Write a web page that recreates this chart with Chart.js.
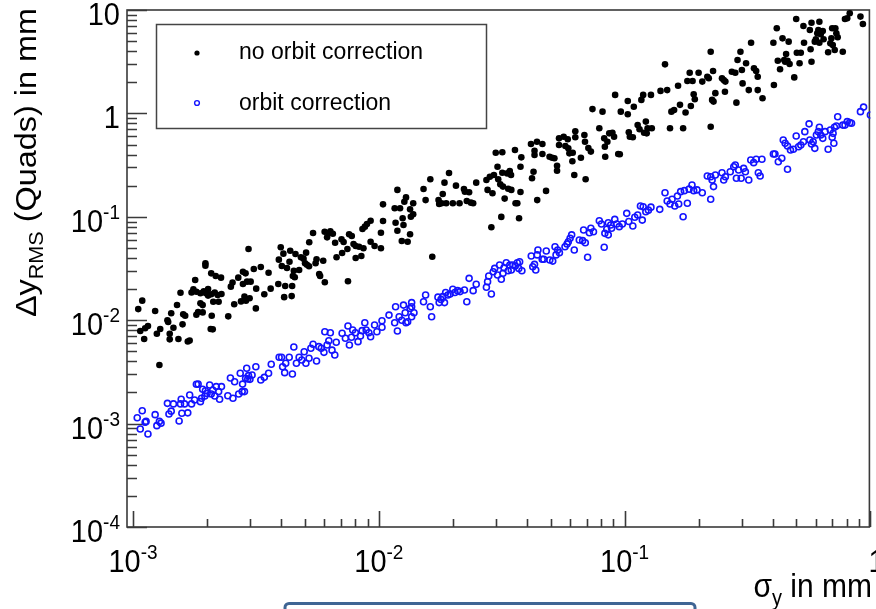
<!DOCTYPE html>
<html>
<head>
<meta charset="utf-8">
<script src="https://cdn.jsdelivr.net/npm/chart.js@4"></script>
<style>
  html, body { margin: 0; padding: 0; background: #fff; }
  canvas { display: block; }
</style>
</head>
<body>
<canvas id="scan" width="876" height="609"></canvas>
<script>
// sigma_y (mm) and Delta y_RMS (mm)
const noCorrSigma = [
  1.05e-3,1.09e-3,1.07e-3,1.11e-3,1.12e-3,1.15e-3,1.23e-3,1.25e-3,1.29e-3,1.38e-3,
  1.39e-3,1.41e-3,1.41e-3,1.43e-3,1.46e-3,1.51e-3,1.53e-3,1.56e-3,1.59e-3,1.60e-3,
  1.63e-3,1.67e-3,1.70e-3,1.73e-3,1.76e-3,1.79e-3,1.81e-3,1.81e-3,1.84e-3,1.88e-3,
  1.88e-3,1.92e-3,1.92e-3,1.94e-3,1.97e-3,1.97e-3,1.98e-3,2.02e-3,2.02e-3,2.08e-3,
  2.08e-3,2.09e-3,2.07e-3,2.11e-3,2.12e-3,2.15e-3,2.17e-3,2.21e-3,2.23e-3,2.28e-3,
  2.29e-3,2.44e-3,2.50e-3,2.54e-3,2.58e-3,2.68e-3,2.75e-3,2.80e-3,2.80e-3,2.84e-3,
  2.87e-3,2.88e-3,2.91e-3,2.95e-3,2.98e-3,3.01e-3,3.10e-3,3.16e-3,3.17e-3,3.31e-3,
  3.42e-3,3.56e-3,3.63e-3,3.90e-3,3.92e-3,3.99e-3,4.03e-3,4.09e-3,4.12e-3,4.16e-3,
  4.23e-3,4.33e-3,4.36e-3,4.42e-3,4.44e-3,4.47e-3,4.51e-3,4.55e-3,4.58e-3,4.74e-3,
  4.82e-3,4.94e-3,5.01e-3,5.06e-3,5.10e-3,5.20e-3,5.21e-3,5.40e-3,5.53e-3,5.58e-3,
  5.72e-3,5.77e-3,5.94e-3,6.03e-3,6.02e-3,6.16e-3,6.26e-3,6.35e-3,6.50e-3,6.64e-3,
  6.73e-3,7.05e-3,7.09e-3,7.19e-3,7.45e-3,7.49e-3,7.57e-3,7.76e-3,7.89e-3,8.05e-3,
  8.05e-3,8.31e-3,8.49e-3,8.66e-3,8.58e-3,8.78e-3,8.95e-3,9.26e-3,9.26e-3,9.61e-3,
  1.28e-3,
  1.02e-2,1.02e-2,1.04e-2,1.04e-2,1.16e-2,1.19e-2,1.17e-2,1.19e-2,1.22e-2,1.24e-2,
  1.25e-2,1.26e-2,1.27e-2,1.29e-2,1.31e-2,1.34e-2,1.34e-2,1.35e-2,1.38e-2,1.38e-2,
  1.52e-2,1.55e-2,1.62e-2,1.65e-2,1.75e-2,1.76e-2,1.80e-2,1.82e-2,1.85e-2,1.88e-2,
  1.93e-2,2.00e-2,2.06e-2,2.13e-2,2.22e-2,2.24e-2,2.28e-2,2.33e-2,2.37e-2,2.42e-2,
  2.49e-2,2.74e-2,2.77e-2,2.83e-2,2.87e-2,2.90e-2,2.94e-2,2.99e-2,3.04e-2,3.06e-2,
  3.12e-2,3.15e-2,3.18e-2,3.18e-2,3.20e-2,3.25e-2,3.33e-2,3.36e-2,3.41e-2,3.45e-2,
  3.46e-2,3.58e-2,3.60e-2,3.66e-2,3.72e-2,3.77e-2,3.77e-2,3.80e-2,4.16e-2,4.20e-2,
  4.26e-2,4.30e-2,4.30e-2,4.40e-2,4.41e-2,4.63e-2,4.63e-2,4.79e-2,4.95e-2,5.07e-2,
  5.18e-2,5.31e-2,5.31e-2,5.41e-2,5.41e-2,5.65e-2,5.74e-2,5.87e-2,5.90e-2,5.96e-2,
  6.13e-2,6.15e-2,6.24e-2,6.30e-2,6.30e-2,6.64e-2,6.86e-2,6.90e-2,6.94e-2,7.12e-2,
  7.29e-2,7.40e-2,7.89e-2,8.13e-2,8.26e-2,8.31e-2,8.34e-2,
  8.51e-2,8.66e-2,8.92e-2,9.06e-2,9.15e-2,9.42e-2,9.56e-2,9.65e-2,0.103,0.103,
  0.104,0.105,0.108,0.109,0.113,0.115,0.117,0.119,0.120,0.122,
  0.123,0.124,0.128,0.129,0.140,0.146,0.149,0.153,0.155,0.159,
  0.165,0.168,0.173,0.177,0.180,0.184,0.186,0.189,0.191,0.193,
  0.200,0.207,0.217,0.220,0.224,0.224,0.229,0.227,0.230,0.234,
  0.249,0.253,0.256,0.257,0.273,0.282,0.285,0.288,0.296,0.300,
  0.302,0.312,0.320,0.327,0.336,0.343,0.348,0.348,0.364,0.403,
  0.405,0.416,0.420,0.429,0.439,0.446,0.450,0.454,0.460,0.465,
  0.469,0.490,0.499,0.502,0.515,0.521,0.534,0.537,0.567,0.571,
  0.576,0.576,0.594,0.600,0.608,0.614,0.620,0.620,0.628,0.640,
  0.645,0.673,0.687,0.694,0.699,0.703,0.716,0.720,0.727,0.736,
  0.772,0.788,0.805,0.824,0.911,0.932
];
const noCorrDelta = [
  1.28e-2,1.545e-2,7.86e-3,6.58e-3,8.35e-3,8.79e-3,1.227e-2,7.40e-3,8.22e-3,1.00e-2,
  9.61e-3,7.40e-3,6.53e-3,1.166e-2,8.46e-3,1.403e-2,6.58e-3,1.845e-2,9.12e-3,1.14e-2,
  1.105e-2,6.22e-3,6.37e-3,1.85e-2,1.99e-2,2.45e-2,1.885e-2,1.13e-2,1.20e-2,1.457e-2,
  1.82e-2,1.19e-2,1.40e-2,1.90e-2,3.55e-2,3.37e-2,1.82e-2,2.00e-2,1.73e-2,2.84e-2,
  1.78e-2,1.105e-2,8.22e-3,8.16e-3,1.51e-2,1.85e-2,2.68e-2,1.75e-2,1.51e-2,2.58e-2,
  1.79e-2,1.09e-2,2.11e-2,2.31e-2,1.425e-2,2.58e-2,1.52e-2,2.94e-2,2.24e-2,1.69e-2,
  2.84e-2,1.545e-2,2.36e-2,4.88e-2,1.63e-2,2.36e-2,3.13e-2,1.30e-2,2.02e-2,3.27e-2,
  1.78e-2,2.88e-2,2.02e-2,2.24e-2,3.85e-2,5.07e-2,3.34e-2,4.40e-2,1.67e-2,2.14e-2,
  3.20e-2,3.68e-2,4.70e-2,1.71e-2,2.14e-2,2.68e-2,3.01e-2,2.60e-2,4.37e-2,3.06e-2,
  4.06e-2,3.94e-2,3.55e-2,4.50e-2,3.44e-2,3.32e-2,5.67e-2,6.97e-2,3.55e-2,3.88e-2,
  2.80e-2,2.68e-2,3.76e-2,2.33e-2,7.18e-2,6.33e-2,6.92e-2,7.24e-2,6.86e-2,5.62e-2,
  4.06e-2,6.06e-2,4.47e-2,5.70e-2,4.88e-2,2.38e-2,6.78e-2,6.52e-2,5.46e-2,4.00e-2,
  5.22e-2,5.14e-2,4.18e-2,4.96e-2,7.62e-2,8.03e-2,8.52e-2,9.17e-2,5.74e-2,5.22e-2,
  3.69e-3,
  4.96e-2,7.02e-2,9.11e-2,0.132,0.121,0.182,8.77e-2,7.34e-2,0.121,5.84e-2,
  9.67e-2,8.33e-2,0.140,0.154,5.74e-2,0.118,6.78e-2,0.100,0.106,0.135,
  0.186,0.145,0.231,4.11e-2,0.145,0.133,0.135,0.166,0.214,0.135,
  0.265,0.135,0.200,0.135,0.186,0.175,0.142,0.173,0.137,0.135,
  0.214,0.227,0.182,0.244,7.92e-2,0.169,0.254,0.417,0.305,0.231,
  0.206,0.0998,0.421,0.267,0.196,0.150,0.263,0.187,0.277,0.254,
  0.182,0.443,0.135,0.135,9.67e-2,0.174,0.305,0.376,0.506,0.236,
  0.273,0.436,0.396,0.532,0.145,0.506,0.405,0.178,0.381,0.373,
  0.368,0.312,0.279,0.574,0.495,0.595,0.484,0.562,0.459,0.411,
  0.344,0.417,0.254,0.671,0.588,0.373,0.619,0.532,0.231,0.463,
  0.427,1.10,0.718,1.04,0.574,0.476,0.381,
  0.532,0.641,0.650,0.595,1.51,0.405,0.402,1.04,1.32,0.980,
  0.657,0.595,0.588,1.16,0.771,0.702,1.35,1.51,0.650,0.833,
  0.641,0.718,1.51,0.718,1.65,2.98,1.68,0.718,1.04,1.08,
  1.85,1.21,0.718,1.02,2.06,2.47,1.18,2.06,1.53,1.37,
  2.47,2.03,2.26,2.19,3.95,0.743,2.57,1.35,1.30,1.57,
  2.19,2.10,1.62,2.03,2.53,2.47,1.27,3.28,3.95,2.63,
  1.95,3.05,1.68,4.83,2.73,2.57,2.26,1.68,1.40,4.83,
  1.88,6.66,3.23,2.67,5.32,3.28,3.16,3.76,3.23,4.94,
  3.00,2.23,8.18,3.86,3.05,3.86,7.00,4.83,6.41,4.17,
  3.16,7.54,4.94,5.21,5.95,6.41,7.70,4.83,5.82,6.27,
  5.21,3.90,4.76,5.32,6.66,4.58,4.11,6.66,5.95,5.45,
  3.95,8.18,8.33,9.29,8.63,7.33
];
const corrSigma = [
  1.04e-3,1.07e-3,1.09e-3,1.12e-3,1.13e-3,1.15e-3,1.23e-3,1.25e-3,1.28e-3,1.30e-3,
  1.38e-3,1.40e-3,1.43e-3,1.46e-3,1.54e-3,1.56e-3,1.57e-3,1.58e-3,1.62e-3,1.67e-3,
  1.70e-3,1.73e-3,1.78e-3,1.81e-3,1.84e-3,1.88e-3,1.90e-3,1.92e-3,1.96e-3,1.97e-3,
  2.00e-3,2.05e-3,2.08e-3,2.11e-3,2.15e-3,2.18e-3,2.23e-3,2.25e-3,2.29e-3,2.43e-3,
  2.49e-3,2.55e-3,2.59e-3,2.69e-3,2.73e-3,2.78e-3,2.79e-3,2.84e-3,2.87e-3,2.90e-3,
  2.93e-3,2.95e-3,2.99e-3,3.05e-3,3.16e-3,3.31e-3,3.42e-3,3.56e-3,3.65e-3,3.93e-3,
  4.02e-3,4.06e-3,4.14e-3,4.18e-3,4.32e-3,4.45e-3,4.51e-3,4.62e-3,4.74e-3,4.86e-3,
  4.97e-3,5.05e-3,5.20e-3,5.29e-3,5.40e-3,5.58e-3,5.70e-3,5.83e-3,5.98e-3,6.03e-3,
  6.16e-3,6.26e-3,6.35e-3,6.45e-3,6.62e-3,6.71e-3,7.09e-3,7.31e-3,7.49e-3,7.59e-3,
  7.74e-3,7.83e-3,8.03e-3,8.23e-3,8.42e-3,8.55e-3,8.77e-3,8.88e-3,9.11e-3,9.26e-3,
  9.61e-3,9.82e-3,1.03e-2,1.03e-2,1.10e-2,1.16e-2,1.17e-2,1.19e-2,1.21e-2,1.24e-2,
  1.26e-2,1.28e-2,1.31e-2,1.34e-2,1.36e-2,1.36e-2,1.39e-2,1.52e-2,1.55e-2,
  1.29e-2,1.36e-2,1.62e-2,1.64e-2,1.74e-2,1.76e-2,1.79e-2,1.82e-2,1.85e-2,1.87e-2,
  1.91e-2,1.95e-2,2.00e-2,2.04e-2,2.09e-2,2.14e-2,2.23e-2,2.28e-2,2.33e-2,2.42e-2,
  2.49e-2,2.74e-2,2.77e-2,2.80e-2,2.87e-2,2.92e-2,2.96e-2,3.04e-2,3.10e-2,3.15e-2,
  3.20e-2,3.23e-2,3.30e-2,3.36e-2,3.41e-2,3.46e-2,3.51e-2,3.59e-2,3.66e-2,3.71e-2,
  3.74e-2,3.82e-2,4.17e-2,4.23e-2,4.30e-2,4.35e-2,4.41e-2,4.44e-2,4.62e-2,4.69e-2,
  4.80e-2,4.96e-2,5.10e-2,5.21e-2,5.26e-2,5.34e-2,5.43e-2,5.72e-2,5.83e-2,5.90e-2,
  6.00e-2,6.09e-2,6.24e-2,6.54e-2,6.75e-2,6.81e-2,6.92e-2,7.07e-2,7.19e-2,7.29e-2,
  7.47e-2,7.89e-2,8.05e-2,8.26e-2,8.31e-2,8.46e-2,8.58e-2,8.78e-2,9.12e-2,9.29e-2,
  8.58e-2,8.85e-2,9.51e-2,9.79e-2,
  0.102,0.104,0.108,0.110,0.113,0.116,0.118,0.119,0.122,0.125,
  0.128,0.139,0.146,0.149,0.153,0.156,0.160,0.164,0.166,0.169,
  0.173,0.175,0.180,0.183,0.188,0.191,0.197,0.207,0.217,0.224,
  0.224,0.227,0.230,0.234,0.249,0.253,0.257,0.269,0.278,0.282,
  0.285,0.291,0.298,0.305,0.310,0.320,0.326,0.335,0.343,0.350,
  0.356,0.362,0.403,0.409,0.422,0.436,0.442,0.450,0.460,0.460,
  0.473,0.486,0.499,0.510,0.521,0.534,0.541,0.563,0.567,0.576,
  0.585,0.594,0.603,0.614,0.620,0.628,0.640,0.654,0.673,0.687,
  0.699,0.705,0.710,0.714,0.727,0.736,0.772,0.788,0.805,0.824,
  0.838,0.911,0.938,1.00
];
const corrDelta = [
  1.14e-3,8.87e-4,1.33e-3,1.03e-3,1.05e-3,7.93e-4,1.22e-3,9.55e-4,1.05e-3,1.01e-3,
  1.57e-3,1.24e-3,1.32e-3,1.55e-3,1.06e-3,1.55e-3,1.72e-3,1.26e-3,1.55e-3,1.27e-3,
  1.89e-3,1.55e-3,1.69e-3,2.40e-3,2.41e-3,1.63e-3,1.76e-3,2.15e-3,1.85e-3,2.08e-3,
  1.96e-3,2.36e-3,1.93e-3,2.11e-3,1.85e-3,2.28e-3,2.04e-3,1.72e-3,2.28e-3,1.86e-3,
  2.76e-3,1.76e-3,2.54e-3,1.93e-3,3.07e-3,2.04e-3,2.41e-3,2.04e-3,2.74e-3,3.43e-3,
  2.70e-3,2.91e-3,2.68e-3,2.95e-3,3.55e-3,2.64e-3,2.80e-3,3.07e-3,3.75e-3,4.38e-3,
  4.38e-3,3.55e-3,3.11e-3,3.83e-3,4.38e-3,3.02e-3,5.51e-3,3.83e-3,4.38e-3,4.12e-3,
  4.96e-3,3.83e-3,4.28e-3,5.35e-3,5.85e-3,4.03e-3,5.55e-3,5.35e-3,4.89e-3,7.74e-3,
  5.76e-3,6.33e-3,7.57e-3,5.13e-3,4.61e-3,6.12e-3,7.47e-3,6.68e-3,8.79e-3,5.76e-3,
  6.83e-3,8.04e-3,7.57e-3,6.20e-3,7.03e-3,7.92e-3,9.45e-3,8.04e-3,7.57e-3,6.92e-3,
  9.00e-3,7.74e-3,9.89e-3,8.54e-3,1.12e-2,9.45e-3,1.35e-2,7.86e-3,1.08e-2,1.00e-2,
  1.40e-2,1.18e-2,9.67e-3,1.30e-2,1.48e-2,1.08e-2,1.18e-2,1.51e-2,1.75e-2,
  9.45e-3,1.35e-2,1.35e-2,1.08e-2,1.67e-2,1.48e-2,1.59e-2,1.69e-2,1.48e-2,1.85e-2,
  1.75e-2,1.79e-2,1.99e-2,1.85e-2,1.93e-2,1.89e-2,1.96e-2,1.51e-2,2.54e-2,1.93e-2,
  2.23e-2,2.08e-2,2.36e-2,2.68e-2,1.79e-2,2.94e-2,3.17e-2,2.74e-2,3.42e-2,2.49e-2,
  2.84e-2,3.22e-2,3.60e-2,3.01e-2,3.42e-2,3.06e-2,3.42e-2,3.34e-2,3.60e-2,3.17e-2,
  3.68e-2,3.01e-2,4.18e-2,3.29e-2,3.47e-2,3.06e-2,4.28e-2,4.77e-2,3.88e-2,3.88e-2,
  4.67e-2,3.82e-2,3.73e-2,5.14e-2,4.28e-2,4.77e-2,4.50e-2,5.14e-2,5.46e-2,5.74e-2,
  6.20e-2,6.69e-2,4.77e-2,5.97e-2,5.88e-2,7.45e-2,5.62e-2,4.06e-2,7.02e-2,7.74e-2,
  7.18e-2,9.17e-2,8.52e-2,5.07e-2,6.92e-2,7.57e-2,8.77e-2,8.33e-2,9.45e-2,8.52e-2,
  6.69e-2,7.74e-2,8.03e-2,8.52e-2,
  0.108,9.00e-2,8.15e-2,9.89e-2,0.104,0.127,9.29e-2,0.125,0.112,0.116,
  0.124,0.118,0.171,0.142,0.133,0.148,0.127,0.159,0.133,0.175,
  0.100,0.179,0.135,0.185,0.203,0.179,0.182,0.171,0.248,0.148,
  0.244,0.227,0.196,0.254,0.267,0.227,0.244,0.273,0.305,0.317,
  0.236,0.284,0.236,0.294,0.273,0.227,0.354,0.334,0.360,0.267,
  0.248,0.360,0.405,0.405,0.341,0.368,0.553,0.514,0.484,0.288,
  0.443,0.450,0.605,0.476,0.495,0.532,0.666,0.792,0.553,0.506,
  0.532,0.459,0.619,0.666,0.734,0.619,0.574,0.666,0.450,0.690,
  0.588,0.641,0.514,0.734,0.755,0.929,0.771,0.771,0.833,0.814,
  0.803,1.04,1.15,0.964
];

const xDecades = [1e-3, 1e-2, 1e-1, 1];
const xDecadeLabels = [["10", "-3"], ["10", "-2"], ["10", "-1"], ["1", ""]];
const yDecades = [1e-4, 1e-3, 1e-2, 1e-1, 1, 10];
const yDecadeLabels = [["10", "-4"], ["10", "-3"], ["10", "-2"], ["10", "-1"], ["1", ""], ["10", ""]];

const FONT = "'Liberation Sans', Arial, sans-serif";
const SY = 1.08; // the picture is a bit taller than wide

function pairs(xs, ys) {
  return xs.map((x, i) => ({ x: x, y: ys[i] }));
}

// draws runs of [text, size, shift] side by side, stretched like the original
function drawRuns(ctx, x, y, runs, align, rotate) {
  let total = 0;
  runs.forEach((r) => {
    ctx.font = r[1] + "px " + FONT;
    r.w = ctx.measureText(r[0]).width;
    total += r.w;
  });
  ctx.save();
  ctx.translate(x, y);
  ctx.scale(1, SY);
  if (rotate) ctx.rotate(-Math.PI / 2);
  let cx = align === "right" ? -total : align === "center" ? -total / 2 : 0;
  ctx.textAlign = "left";
  ctx.textBaseline = "alphabetic";
  runs.forEach((r) => {
    ctx.font = r[1] + "px " + FONT;
    ctx.fillText(r[0], cx, r[2]);
    cx += r.w;
  });
  ctx.restore();
}

function decadeRuns(lab) {
  const runs = [[lab[0], 29, 0]];
  if (lab[1]) runs.push([lab[1], 19, -12]);
  return runs;
}

const rootFrame = {
  id: "rootFrame",
  beforeDatasetsDraw(chart) {
    const ctx = chart.ctx;
    const a = chart.chartArea;
    const xs = chart.scales.x;
    const ys = chart.scales.y;
    ctx.save();
    ctx.strokeStyle = "#3a3a3a";
    ctx.lineWidth = 1.6;
    ctx.beginPath();
    // y axis ticks
    yDecades.forEach((d) => {
      for (let m = 1; m <= 9; m++) {
        const v = d * m;
        if (v < ys.min || v > ys.max * 1.0001) continue;
        const py = Math.round(ys.getPixelForValue(v)) + 0.5;
        ctx.moveTo(a.left, py);
        ctx.lineTo(a.left + (m === 1 ? 20 : 10), py);
      }
    });
    // x axis ticks
    [1e-4].concat(xDecades).forEach((d) => {
      for (let m = 1; m <= 9; m++) {
        const v = d * m;
        if (v < xs.min || v > xs.max * 1.0001) continue;
        const px = Math.round(xs.getPixelForValue(v)) + 0.5;
        ctx.moveTo(px, a.bottom);
        ctx.lineTo(px, a.bottom - (m === 1 ? 16 : 8));
      }
    });
    ctx.stroke();
    ctx.strokeRect(a.left, a.top, a.right - a.left - 1, a.bottom - a.top);
    ctx.restore();
  },
  afterDraw(chart) {
    const ctx = chart.ctx;
    const xs = chart.scales.x;
    const ys = chart.scales.y;
    ctx.save();
    ctx.fillStyle = "#000";

    yDecades.forEach((d, i) => {
      const py = ys.getPixelForValue(d);
      drawRuns(ctx, 120, py + 15, decadeRuns(yDecadeLabels[i]), "right", false);
    });
    xDecades.forEach((d, i) => {
      const px = xs.getPixelForValue(d);
      // the last label sits on the frame edge, mostly cut off as in the original
      const last = i === xDecades.length - 1;
      drawRuns(ctx, last ? px - 2 : px, 572, decadeRuns(xDecadeLabels[i]), last ? "left" : "center", false);
    });

    // axis titles
    drawRuns(ctx, 872, 597, [["\u03c3", 30, 0], ["y", 20, 7], [" in mm", 30, 0]], "right", false);
    drawRuns(ctx, 36, 8, [["\u0394y", 30, 0], ["RMS", 20, 7], [" (Quads) in mm", 30, 0]], "right", true);

    // legend box
    ctx.fillStyle = "#fff";
    ctx.fillRect(156, 24, 331, 105);
    ctx.strokeStyle = "#444";
    ctx.lineWidth = 1.5;
    ctx.strokeRect(156.5, 24.5, 330, 104);
    const sets = chart.data.datasets;
    ctx.beginPath();
    ctx.arc(197, 53, 2.6, 0, Math.PI * 2);
    ctx.fillStyle = sets[0].pointBackgroundColor;
    ctx.fill();
    ctx.beginPath();
    ctx.arc(197, 103, 2.4, 0, Math.PI * 2);
    ctx.strokeStyle = sets[1].pointBorderColor;
    ctx.lineWidth = 1.4;
    ctx.stroke();
    ctx.fillStyle = "#000";
    drawRuns(ctx, 239, 59, [[sets[0].label, 23, 0]], "left", false);
    drawRuns(ctx, 239, 110, [[sets[1].label, 23, 0]], "left", false);

    // slide bar at the bottom edge
    ctx.beginPath();
    ctx.roundRect(285, 603.5, 410, 20, 4);
    ctx.fillStyle = "#fff";
    ctx.fill();
    ctx.strokeStyle = "#3f6594";
    ctx.lineWidth = 3;
    ctx.stroke();
    ctx.restore();
  }
};

new Chart(document.getElementById("scan"), {
  type: "scatter",
  data: {
    datasets: [
      {
        label: "no orbit correction",
        data: pairs(noCorrSigma, noCorrDelta),
        pointStyle: "circle",
        pointRadius: 3.3,
        pointBackgroundColor: "#000",
        pointBorderColor: "#000",
        pointBorderWidth: 0,
      },
      {
        label: "orbit correction",
        data: pairs(corrSigma, corrDelta),
        pointStyle: "circle",
        pointRadius: 3,
        pointBackgroundColor: "rgba(0,0,0,0)",
        pointBorderColor: "#1414ff",
        pointBorderWidth: 1.6,
      },
    ],
  },
  options: {
    responsive: false,
    animation: false,
    devicePixelRatio: 1,
    events: [],
    layout: { padding: { left: 127, top: 10, right: 2, bottom: 82 } },
    plugins: {
      legend: { display: false },
      tooltip: { enabled: false },
    },
    scales: {
      x: { type: "logarithmic", min: 9.45e-4, max: 1.0, display: false },
      y: { type: "logarithmic", min: 1e-4, max: 10, display: false },
    },
  },
  plugins: [rootFrame],
});
</script>
</body>
</html>
